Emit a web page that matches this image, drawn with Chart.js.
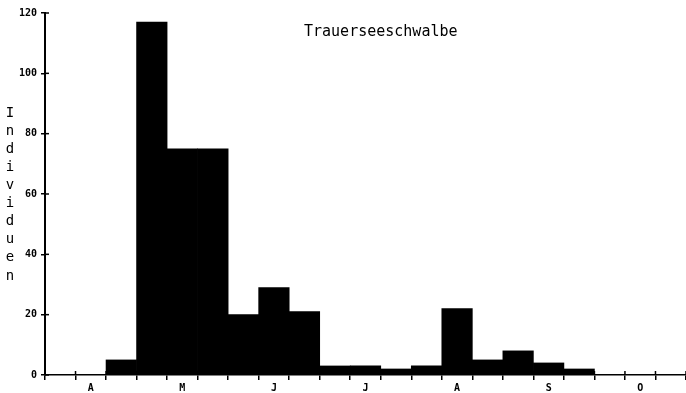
<!DOCTYPE html>
<html><head><meta charset="utf-8">
<script src="https://cdn.jsdelivr.net/npm/chart.js@4/dist/chart.umd.min.js"></script>
<style>html,body{margin:0;padding:0;background:#fff}#wrap{width:686px;height:393px}</style>
</head><body><div id="wrap"><canvas id="c" width="686" height="393"></canvas></div>
<script>
// Ten-day periods (dekads), April to October
const monthLabels = ["", "A", "", "", "M", "", "", "J", "", "", "J", "", "", "A", "", "", "S", "", "", "O", ""];
const counts = [0, 0, 5, 117, 75, 75, 20, 29, 21, 3, 3, 2, 3, 22, 5, 8, 4, 2, 0, 0, 0];
const yMin = 0, yMax = 120, yStep = 20;
const chartTitle = "Trauerseeschwalbe";
const yTitle = "Individuen";

const MONO = "'DejaVu Sans Mono', monospace";

const extras = {
  id: 'extras',
  beforeDatasetsDraw(chart) {
    const ctx = chart.ctx, x = chart.scales.x, y = chart.scales.y;
    ctx.save();
    ctx.strokeStyle = '#000';
    ctx.lineWidth = 1.5;
    for (let i = 0; i <= counts.length; i++) {
      const px = x.getPixelForValue(i - 0.5);
      ctx.beginPath(); ctx.moveTo(px, y.bottom); ctx.lineTo(px, y.bottom - 4); ctx.stroke();
    }
    for (let v = yMin; v <= yMax; v += yStep) {
      const py = y.getPixelForValue(v);
      ctx.beginPath(); ctx.moveTo(x.left, py); ctx.lineTo(x.left + 4, py); ctx.stroke();
    }
    ctx.restore();
  },
  afterDraw(chart) {
    const ctx = chart.ctx, a = chart.chartArea;
    ctx.save();
    ctx.fillStyle = '#000';
    ctx.font = "15px " + MONO;
    ctx.textAlign = 'left'; ctx.textBaseline = 'middle';
    ctx.fillText(chartTitle, a.left + 259, a.top + 19);
    ctx.font = "14px " + MONO;
    ctx.textAlign = 'center';
    const chars = yTitle.split('');
    chars.forEach((c, i) => ctx.fillText(c, 10, 113 + i * 18.1));
    ctx.restore();
  }
};

new Chart(document.getElementById('c'), {
  type: 'bar',
  data: {
    labels: monthLabels,
    datasets: [{
      data: counts,
      backgroundColor: '#000',
      borderWidth: 0,
      barPercentage: 1,
      categoryPercentage: 1
    }]
  },
  options: {
    responsive: false,
    animation: false,
    devicePixelRatio: 1,
    layout: { padding: { top: 13, right: 0, left: 0, bottom: 0 } },
    plugins: { legend: { display: false }, tooltip: { enabled: false }, title: { display: false } },
    scales: {
      x: {
        type: 'category',
        afterFit(s) { s.height = 18; },
        grid: { offset: true, drawOnChartArea: false, color: '#000', lineWidth: 1.5, tickLength: 5 },
        border: { color: '#000', width: 1.5 },
        ticks: { autoSkip: false, maxRotation: 0, minRotation: 0, padding: 2, color: '#000',
                 font: { family: MONO, size: 10, weight: 'bold' } }
      },
      y: {
        min: yMin, max: yMax,
        afterFit(s) { s.width = 45; },
        grid: { drawOnChartArea: false, color: '#000', lineWidth: 1.5, tickLength: 4 },
        border: { color: '#000', width: 2 },
        ticks: { stepSize: yStep, padding: 4, color: '#000',
                 font: { family: MONO, size: 10, weight: 'bold' } }
      }
    }
  },
  plugins: [extras]
});
</script>
</body></html>
